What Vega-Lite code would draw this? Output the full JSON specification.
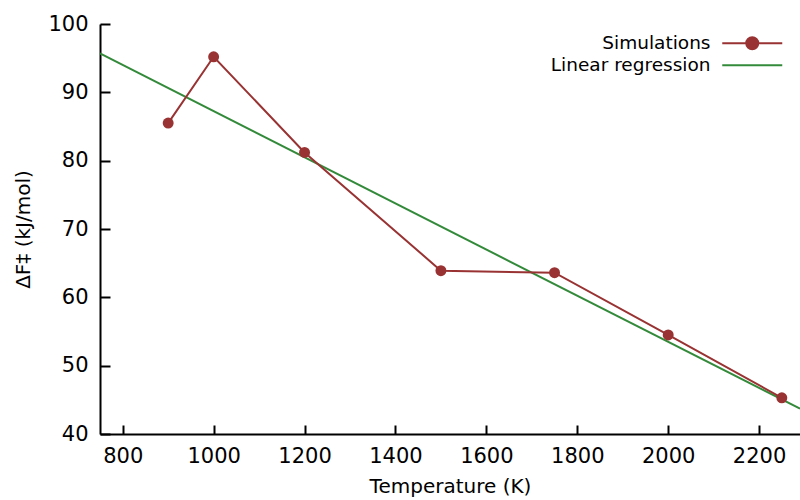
{
  "$schema": "https://vega.github.io/schema/vega-lite/v6.json",
  "width": 700,
  "height": 410,
  "autosize": {"type": "none"},
  "padding": {"left": 100, "top": 24, "right": 0, "bottom": 66},
  "background": "white",
  "config": {
    "font": "DejaVu Sans",
    "view": {"stroke": null},
    "axis": {
      "grid": false,
      "ticks": true,
      "domainColor": "black",
      "domainWidth": 2,
      "tickColor": "black",
      "tickWidth": 2,
      "labelFont": "DejaVu Sans",
      "labelFontSize": 21,
      "labelColor": "black",
      "titleFont": "DejaVu Sans",
      "titleFontSize": 20,
      "titleFontWeight": "normal",
      "titleColor": "black"
    },
    "legend": {
      "title": null,
      "orient": "none",
      "symbolSize": 144,
      "symbolStrokeWidth": 2,
      "labelOffset": -51,
      "labelAlign": "right",
      "labelLimit": 400,
      "labelFont": "DejaVu Sans",
      "labelFontSize": 18.5,
      "labelColor": "black",
      "rowPadding": 0,
      "padding": 0
    }
  },
  "data": {
    "values": [
      {"T": 900, "F": 85.5},
      {"T": 1000, "F": 95.2},
      {"T": 1200, "F": 81.2},
      {"T": 1500, "F": 63.9},
      {"T": 1750, "F": 63.6},
      {"T": 2000, "F": 54.5},
      {"T": 2250, "F": 45.3}
    ]
  },
  "resolve": {"axis": {"x": "independent", "y": "independent"}},
  "layer": [
    {
      "transform": [
        {"regression": "F", "on": "T", "method": "linear", "extent": [750, 2290]}
      ],
      "mark": {"type": "line", "strokeWidth": 2, "clip": true},
      "encoding": {
        "x": {
          "field": "T",
          "type": "quantitative",
          "scale": {"domain": [750, 2290], "nice": false, "zero": false},
          "axis": {
            "orient": "top",
            "offset": -410,
            "title": null,
            "labels": false,
            "domain": false,
            "ticks": true,
            "tickSize": 9,
            "values": [800, 1000, 1200, 1400, 1600, 1800, 2000, 2200]
          }
        },
        "y": {
          "field": "F",
          "type": "quantitative",
          "scale": {"domain": [40, 100], "nice": false, "zero": false},
          "axis": {
            "orient": "right",
            "offset": -700,
            "title": null,
            "labels": false,
            "domain": false,
            "ticks": true,
            "tickSize": 10,
            "values": [40, 50, 60, 70, 80, 90, 100]
          }
        },
        "stroke": {
          "datum": "Linear regression",
          "scale": {"range": ["#338a3a"]},
          "legend": {
            "symbolType": "M-5,0H5",
            "symbolStrokeColor": "#338a3a",
            "legendX": 643,
            "legendY": 32
          }
        }
      }
    },
    {
      "mark": {"type": "line", "strokeWidth": 2},
      "encoding": {
        "x": {"field": "T", "type": "quantitative", "axis": null},
        "y": {"field": "F", "type": "quantitative", "axis": null},
        "color": {
          "datum": "Simulations",
          "scale": {"range": ["#993333"]},
          "legend": {
            "symbolType": "M-5,0H5M-1,0A1,1 0 1,1 1,0A1,1 0 1,1 -1,0Z",
            "symbolFillColor": "#993333",
            "symbolStrokeColor": "#993333",
            "legendX": 643,
            "legendY": 10
          }
        }
      }
    },
    {
      "mark": {"type": "circle", "size": 120, "opacity": 1},
      "encoding": {
        "x": {
          "field": "T",
          "type": "quantitative",
          "axis": {
            "orient": "bottom",
            "title": "Temperature (K)",
            "format": "d",
            "values": [800, 1000, 1200, 1400, 1600, 1800, 2000, 2200],
            "ticks": false,
            "labelPadding": 11,
            "titlePadding": 10
          }
        },
        "y": {
          "field": "F",
          "type": "quantitative",
          "axis": {
            "orient": "left",
            "title": "ΔF‡ (kJ/mol)",
            "format": "d",
            "values": [40, 50, 60, 70, 80, 90, 100],
            "ticks": false,
            "labelPadding": 12,
            "titlePadding": 14
          }
        },
        "color": {"datum": "Simulations"}
      }
    }
  ]
}
